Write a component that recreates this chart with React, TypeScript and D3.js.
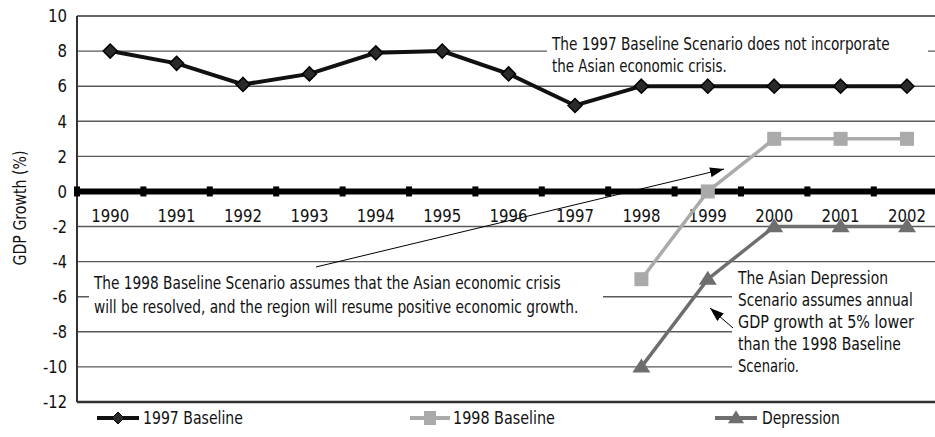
import React, { useLayoutEffect, useRef, useState } from "react";
import * as d3 from "d3";

const years = ["1990","1991","1992","1993","1994","1995","1996","1997","1998","1999","2000","2001","2002"];
const baseline1997 = [8, 7.3, 6.1, 6.7, 7.9, 8.0, 6.7, 4.9, 6, 6, 6, 6, 6];
const baseline1998: (number | null)[] = [null, null, null, null, null, null, null, null, -5, 0, 3, 3, 3];
const depression: (number | null)[] = [null, null, null, null, null, null, null, null, -10, -5, -2, -2, -2];
const yTicks = [10, 8, 6, 4, 2, 0, -2, -4, -6, -8, -10, -12];
const seriesNames = ["1997 Baseline", "1998 Baseline", "Depression"];

const note1997 = ["The 1997 Baseline Scenario does not incorporate", "the Asian economic crisis."];
const note1998 = ["The 1998 Baseline Scenario assumes that the Asian economic crisis", "will be resolved, and the region will resume positive economic growth."];
const noteDep = ["The Asian Depression", "Scenario assumes annual", "GDP growth at 5% lower", "than the 1998 Baseline", "Scenario."];

const W = 935, H = 437;
const FONT = "'DejaVu Sans Condensed', 'DejaVu Sans', sans-serif";
const C1 = "#111", C2 = "#aaaaaa", C3 = "#6e6e6e";
const FS = 17.5;

type FitProps = { x: number; y: number; width: number; anchor?: "start" | "middle" | "end"; rotate?: number; dy?: string; children: React.ReactNode };

function FitText({ x, y, width, anchor = "start", rotate = 0, dy, children }: FitProps) {
  const ref = useRef<SVGTextElement>(null);
  const [k, setK] = useState(1);
  useLayoutEffect(() => {
    if (ref.current) {
      const L = ref.current.getComputedTextLength();
      if (L > 0) setK(width / L);
    }
  }, [width, children]);
  return (
    <text ref={ref} transform={`translate(${x},${y}) rotate(${rotate}) scale(${k},1)`} textAnchor={anchor}
      dy={dy} fontSize={FS} fill="#111">{children}</text>
  );
}

export default function App() {
  const left = 77, top = 16, bottom = 402;
  const x = d3.scaleBand<string>().domain(years).range([left, left + 13 * 66.4]).padding(0);
  const cx = (yr: string) => (x(yr) as number) + x.bandwidth() / 2;
  const y = d3.scaleLinear().domain([-12, 10]).range([bottom, top]);

  const lineGen = d3.line<[string, number | null]>()
    .defined(d => d[1] !== null)
    .x(d => cx(d[0]))
    .y(d => y(d[1] as number));

  const s1 = years.map((yr, i) => [yr, baseline1997[i]] as [string, number | null]);
  const s2 = years.map((yr, i) => [yr, baseline1998[i]] as [string, number | null]);
  const s3 = years.map((yr, i) => [yr, depression[i]] as [string, number | null]);

  const diamond = (px: number, py: number, r = 6) => `M${px},${py - r}L${px + r},${py}L${px},${py + r}L${px - r},${py}Z`;
  const tri = (px: number, py: number, w = 9, h = 14) => `M${px},${py - h * 0.6}L${px + w},${py + h * 0.4}L${px - w},${py + h * 0.4}Z`;

  const gridVals = yTicks.filter(v => v !== 0 && v !== 10 && v !== -12);
  const boundaries = d3.range(0, 14).map(i => left + i * x.bandwidth());

  const tickLen = (v: number) => String(Math.abs(v)).length * 9.5 + (v < 0 ? 5 : 0);

  const w1997 = [338, 175];
  const w1998 = [467, 485];
  const wDep = [150, 175, 176, 163, 61];
  const wLeg = [100, 102, 78];

  return (
    <svg width={W} height={H} style={{ position: "absolute", left: 0, top: 0, background: "#fff" }} fontFamily={FONT}>
      <defs>
        <marker id="ah" viewBox="0 0 14 10" refX="14" refY="5" markerWidth="14" markerHeight="10" markerUnits="userSpaceOnUse" orient="auto">
          <path d="M0,0L14,5L0,10Z" fill="#000" />
        </marker>
      </defs>
      {gridVals.map(v => (
        <line key={v} x1={left} x2={W} y1={y(v)} y2={y(v)} stroke="#5a5a5a" strokeWidth={1.4} />
      ))}
      <rect x={547} y={30} width={381} height={46} fill="#fff" />
      <rect x={89} y={267} width={514} height={52} fill="#fff" />
      <rect x={732} y={267} width={203} height={111} fill="#fff" />
      <line x1={left} x2={W} y1={top} y2={top} stroke="#333" strokeWidth={1.6} />
      <line x1={left} x2={W} y1={bottom} y2={bottom} stroke="#333" strokeWidth={2.5} />
      <line x1={left} x2={left} y1={top} y2={bottom} stroke="#333" strokeWidth={2} />
      <line x1={left} x2={W} y1={y(0)} y2={y(0)} stroke="#000" strokeWidth={6} />
      {boundaries.map((bx, i) => (
        <rect key={i} x={bx - 3} y={y(0) - 5} width={6} height={10} fill="#000" />
      ))}
      {yTicks.map(v => (
        <FitText key={v} x={67} y={y(v)} dy="0.36em" anchor="end" width={tickLen(v)}>{String(v)}</FitText>
      ))}
      {years.map(yr => (
        <FitText key={yr} x={cx(yr)} y={221.5} anchor="middle" width={38}>{yr}</FitText>
      ))}
      <FitText x={26} y={208} rotate={-90} anchor="middle" width={115}>GDP Growth (%)</FitText>

      <path d={lineGen(s1) as string} fill="none" stroke={C1} strokeWidth={4} />
      <path d={lineGen(s2) as string} fill="none" stroke={C2} strokeWidth={3.5} />
      <path d={lineGen(s3) as string} fill="none" stroke={C3} strokeWidth={3.5} />
      {s1.map(([yr, v]) => (
        <path key={yr} d={diamond(cx(yr), y(v as number), 7)} fill="#2a2a2a" stroke="#000" strokeWidth={1.5} />
      ))}
      {s2.filter(d => d[1] !== null).map(([yr, v]) => (
        <rect key={yr} x={cx(yr) - 7} y={y(v as number) - 7} width={14} height={14} fill={C2} />
      ))}
      {s3.filter(d => d[1] !== null).map(([yr, v]) => (
        <path key={yr} d={tri(cx(yr), y(v as number))} fill={C3} />
      ))}

      {note1997.map((t, i) => (
        <FitText key={i} x={552} y={49.5 + i * 22} width={w1997[i]}>{t}</FitText>
      ))}
      {note1998.map((t, i) => (
        <FitText key={i} x={94} y={288.5 + i * 24} width={w1998[i]}>{t}</FitText>
      ))}
      {noteDep.map((t, i) => (
        <FitText key={i} x={738} y={283.5 + i * 22} width={wDep[i]}>{t}</FitText>
      ))}
      <line x1={316} y1={267} x2={724} y2={169} stroke="#000" strokeWidth={1} markerEnd="url(#ah)" />
      <line x1={733} y1={328} x2={710} y2={308} stroke="#000" strokeWidth={1} markerEnd="url(#ah)" />

      <line x1={97} x2={139} y1={418} y2={418} stroke={C1} strokeWidth={4} />
      <path d={diamond(118, 418, 6)} fill="#2a2a2a" stroke="#000" strokeWidth={1} />
      <FitText x={143} y={424} width={wLeg[0]}>{seriesNames[0]}</FitText>
      <line x1={410} x2={450} y1={418} y2={418} stroke={C2} strokeWidth={4} />
      <rect x={424} y={411} width={12} height={14} fill={C2} />
      <FitText x={453} y={424} width={wLeg[1]}>{seriesNames[1]}</FitText>
      <line x1={715} x2={757} y1={418} y2={418} stroke={C3} strokeWidth={4} />
      <path d={tri(736, 418, 8, 13)} fill={C3} />
      <FitText x={762} y={424} width={wLeg[2]}>{seriesNames[2]}</FitText>
    </svg>
  );
}
